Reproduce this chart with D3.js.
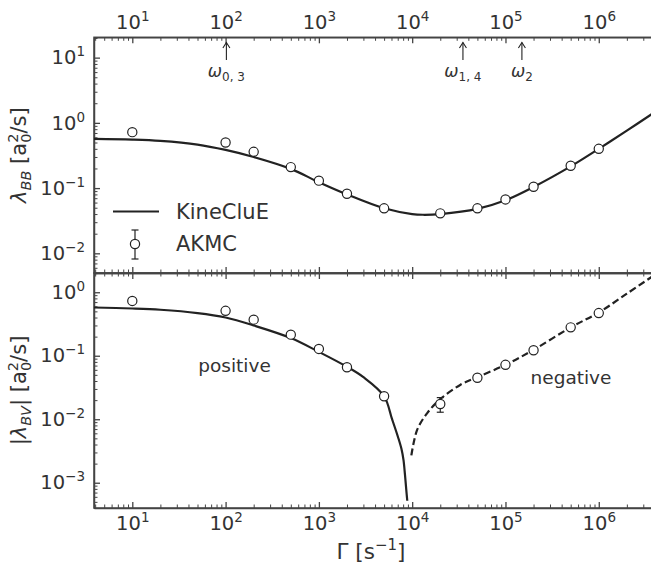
<!DOCTYPE html>
<html>
<head>
<meta charset="utf-8">
<script src="https://cdn.jsdelivr.net/npm/d3@7"></script>
<style>
    body { margin: 0; background: #fff; }
    text { font-family: "DejaVu Sans", sans-serif; fill: #333; }
</style>
</head>
<body>
<div id="chart"></div>
<script>
// AKMC reference points (same rates in both panels)
const akmcRates = [10, 100, 200, 500, 1e3, 2e3, 5e3, 2e4, 5e4, 1e5, 2e5, 5e5, 1e6];
const akmcBB = [0.72, 0.50, 0.36, 0.21, 0.13, 0.082, 0.049, 0.041, 0.049, 0.067, 0.105, 0.22, 0.40];
const akmcBBErr = [0, 0, 0, 0, 0, 0, 0, 0, 0, 0, 0, 0, 0];
const akmcBV = [0.73, 0.51, 0.37, 0.215, 0.128, 0.066, 0.023, 0.0174, 0.045, 0.072, 0.122, 0.28, 0.47];
const akmcBVErr = [0, 0, 0, 0, 0, 0, 0, 0.0045, 0, 0, 0, 0, 0];

// KineCluE curves
const kineRates = [3.886, 10, 20, 50, 100, 200, 500, 1e3, 2e3, 5e3, 1e4, 1.3e4, 2e4, 5e4, 1e5, 2e5, 5e5, 1e6, 2e6, 3.72e6];
const kineBB = [0.57, 0.555, 0.53, 0.465, 0.385, 0.30, 0.197, 0.123, 0.080, 0.049, 0.040, 0.039, 0.040, 0.048, 0.065, 0.104, 0.215, 0.40, 0.76, 1.37];

const posRates = [3.886, 10, 20, 50, 100, 200, 500, 1e3, 2e3, 3e3, 5e3, 6075, 7044, 7681, 8069, 8374, 8646, 8861];
const kineBVpos = [0.575, 0.555, 0.53, 0.47, 0.40, 0.30, 0.19, 0.115, 0.067, 0.046, 0.023, 0.0101, 0.00526, 0.0034, 0.00229, 0.00133, 0.00077, 0.00052];

const negRates = [9800, 11300, 14500, 2e4, 3.3e4, 5e4, 1e5, 2e5, 5e5, 1e6, 2e6, 3.72e6];
const kineBVneg = [0.0027, 0.0068, 0.0125, 0.0207, 0.035, 0.046, 0.072, 0.124, 0.28, 0.48, 0.95, 1.76];

// ticks and annotations
const xTicks = [1e1, 1e2, 1e3, 1e4, 1e5, 1e6];
const yTicksBB = [1e-2, 1e-1, 1e0, 1e1];
const yTicksBV = [1e-3, 1e-2, 1e-1, 1e0];
const omegaRates = [102, 3.5e4, 1.5e5];
const omegaSubs = ['0, 3', '1, 4', '2'];

const width = 651, height = 565;
const left = 94, right = 652;
const top1 = 37.3, bot1 = 273, top2 = 273, bot2 = 508;
const ink = '#222', spine = '#444';

const svg = d3.select('#chart').append('svg')
    .attr('width', width)
    .attr('height', height);

const x = d3.scaleLog().domain([3.886, 3.72e6]).range([left, right]);
const yBB = d3.scaleLog().domain([4.993e-3, 20.5]).range([bot1, top1]);
const yBV = d3.scaleLog().domain([4.0e-4, 2.01]).range([bot2, top2]);

// clip paths
const defs = svg.append('defs');
defs.append('clipPath').attr('id', 'clip1').append('rect')
    .attr('x', left).attr('y', top1).attr('width', right - left).attr('height', bot1 - top1);
defs.append('clipPath').attr('id', 'clip2').append('rect')
    .attr('x', left).attr('y', top2).attr('width', right - left).attr('height', bot2 - top2);

// 10^n label with tspans
function powLabel(sel) {
    sel.each(function (d) {
        const e = Math.round(Math.log10(d));
        const t = d3.select(this).text(null);
        t.append('tspan').text('10');
        t.append('tspan').attr('dy', -8).attr('font-size', 13.5).text(e < 0 ? '\u2212' + (-e) : e);
    });
}

function drawAxis(axisFn, scale, major, transform, labels, pad) {
    const minor = scale.ticks().filter(v => !major.some(m => Math.abs(m - v) / m < 1e-6));
    const gMinor = svg.append('g')
        .attr('transform', transform)
        .call(axisFn(scale).tickValues(minor).tickSize(-3.5).tickSizeOuter(0).tickFormat(''));
    gMinor.select('.domain').remove();
    gMinor.attr('color', spine);
    gMinor.selectAll('.tick line').attr('stroke-width', 1);

    const g = svg.append('g')
        .attr('transform', transform)
        .call(axisFn(scale).tickValues(major).tickSize(-6).tickSizeOuter(0).tickPadding(pad));
    g.attr('color', spine).attr('font-family', null).attr('font-size', null);
    g.select('.domain').attr('stroke-width', 1.5);
    g.selectAll('.tick line').attr('stroke-width', 1.3);
    if (labels) {
        g.selectAll('.tick text').attr('font-size', 19.5).call(powLabel);
    } else {
        g.selectAll('.tick text').remove();
    }
    return g;
}

// panel frames (right spine lies just outside the picture)
[[top1, bot1], [top2, bot2]].forEach(([t, b]) => {
    svg.append('rect')
        .attr('x', left).attr('y', t)
        .attr('width', right - left).attr('height', b - t)
        .attr('fill', 'none').attr('stroke', spine).attr('stroke-width', 1.5);
});

// axes, top panel
drawAxis(d3.axisTop, x, xTicks, `translate(0,${top1})`, true, 8.3);
drawAxis(d3.axisBottom, x, xTicks, `translate(0,${bot1})`, false, 8);
drawAxis(d3.axisLeft, yBB, yTicksBB, `translate(${left},0)`, true, 9);
// axes, bottom panel
drawAxis(d3.axisTop, x, xTicks, `translate(0,${top2})`, false, 8);
drawAxis(d3.axisBottom, x, xTicks, `translate(0,${bot2})`, true, 8.5);
drawAxis(d3.axisLeft, yBV, yTicksBV, `translate(${left},0)`, true, 9);

// curves
function curve(g, rates, vals, yScale, dashed) {
    const line = d3.line()
        .x(d => x(d[0]))
        .y(d => yScale(d[1]))
        .curve(d3.curveCatmullRom.alpha(0.5));
    g.append('path')
        .datum(d3.zip(rates, vals))
        .attr('d', line)
        .attr('fill', 'none')
        .attr('stroke', ink)
        .attr('stroke-width', 2.2)
        .attr('stroke-dasharray', dashed ? '7,3.5' : null);
}

function points(g, vals, errs, yScale) {
    const data = d3.zip(akmcRates, vals, errs);
    const eb = g.append('g').attr('stroke', ink).attr('stroke-width', 1.2);
    data.filter(d => d[2] > 0).forEach(d => {
        const cx = x(d[0]);
        const y0 = yScale(d[1] - d[2]), y1 = yScale(d[1] + d[2]);
        eb.append('line').attr('x1', cx).attr('x2', cx).attr('y1', y0).attr('y2', y1);
        eb.append('line').attr('x1', cx - 3.5).attr('x2', cx + 3.5).attr('y1', y0).attr('y2', y0);
        eb.append('line').attr('x1', cx - 3.5).attr('x2', cx + 3.5).attr('y1', y1).attr('y2', y1);
    });
    g.selectAll('circle.akmc')
        .data(data)
        .join('circle')
        .attr('class', 'akmc')
        .attr('cx', d => x(d[0]))
        .attr('cy', d => yScale(d[1]))
        .attr('r', 4.6)
        .attr('fill', '#fff')
        .attr('stroke', ink)
        .attr('stroke-width', 1.2);
}

const p1 = svg.append('g').attr('clip-path', 'url(#clip1)');
curve(p1, kineRates, kineBB, yBB, false);
points(p1, akmcBB, akmcBBErr, yBB);

const p2 = svg.append('g').attr('clip-path', 'url(#clip2)');
curve(p2, posRates, kineBVpos, yBV, false);
curve(p2, negRates, kineBVneg, yBV, true);
points(p2, akmcBV, akmcBVErr, yBV);

// omega arrows
omegaRates.forEach((r, i) => {
    const cx = x(r);
    const a = svg.append('g').attr('stroke', ink).attr('stroke-width', 1.1).attr('fill', 'none');
    a.append('line').attr('x1', cx).attr('x2', cx).attr('y1', 60).attr('y2', 42.5);
    a.append('path').attr('d', `M${cx - 3.5},${48} L${cx},${42.5} L${cx + 3.5},${48}`);
    const t = svg.append('text').attr('x', cx).attr('y', 77).attr('text-anchor', 'middle').attr('font-size', 17);
    t.append('tspan').attr('font-style', 'italic').text('\u03c9');
    t.append('tspan').attr('font-size', 12).attr('dy', 4).text(omegaSubs[i]);
});

// legend
svg.append('line')
    .attr('x1', 113).attr('x2', 159).attr('y1', 211.5).attr('y2', 211.5)
    .attr('stroke', ink).attr('stroke-width', 2.2);
svg.append('text').attr('x', 176).attr('y', 219).attr('font-size', 21).text('KineCluE');
const lg = svg.append('g').attr('stroke', ink).attr('stroke-width', 1.2);
lg.append('line').attr('x1', 135).attr('x2', 135).attr('y1', 230).attr('y2', 259);
lg.append('line').attr('x1', 131.5).attr('x2', 138.5).attr('y1', 230).attr('y2', 230);
lg.append('line').attr('x1', 131.5).attr('x2', 138.5).attr('y1', 259).attr('y2', 259);
lg.append('circle').attr('cx', 135).attr('cy', 244).attr('r', 4.6).attr('fill', '#fff');
svg.append('text').attr('x', 176).attr('y', 251).attr('font-size', 21).text('AKMC');

// sign annotations
svg.append('text').attr('x', 234.5).attr('y', 372).attr('text-anchor', 'middle').attr('font-size', 18.5).text('positive');
svg.append('text').attr('x', 571).attr('y', 384).attr('text-anchor', 'middle').attr('font-size', 18.5).text('negative');

// axis labels
function yLabel(cy, sub, bars) {
    const t = svg.append('text')
        .attr('transform', `translate(26,${cy}) rotate(-90)`)
        .attr('text-anchor', 'middle')
        .attr('font-size', 21);
    if (bars) t.append('tspan').text('|');
    t.append('tspan').attr('font-style', 'italic').text('\u03bb');
    t.append('tspan').attr('font-style', 'italic').attr('font-size', 14.5).attr('dy', 5).text(sub);
    t.append('tspan').attr('dy', -5).text((bars ? '|' : '') + ' [a');
    t.append('tspan').attr('font-size', 14.5).attr('dy', -8).text('2');
    t.append('tspan').attr('font-size', 14.5).attr('dx', -9.2).attr('dy', 13).text('0');
    t.append('tspan').attr('dy', -5).text('/s]');
}
yLabel((top1 + bot1) / 2, 'BB', false);
yLabel((top2 + bot2) / 2, 'BV', true);

const xl = svg.append('text')
    .attr('x', (left + right) / 2 - 2).attr('y', 559)
    .attr('text-anchor', 'middle').attr('font-size', 21.5);
xl.append('tspan').text('\u0393 [s');
xl.append('tspan').attr('font-size', 15).attr('dy', -9).text('\u22121');
xl.append('tspan').attr('dy', 9).text(']');
</script>
</body>
</html>
